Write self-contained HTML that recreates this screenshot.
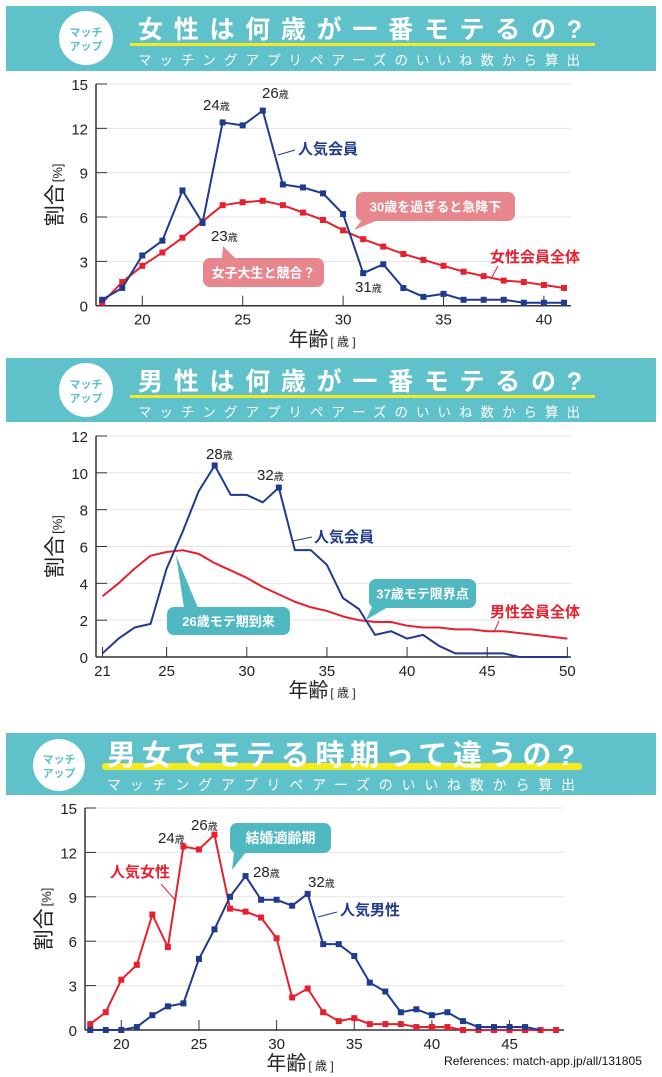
<!DOCTYPE html>
<html><head><meta charset="utf-8"><style>
html,body{margin:0;padding:0;background:#fff;}
svg{display:block;}
text{font-family:"Liberation Sans","Noto Sans CJK JP",sans-serif;}
.t{font-family:"Liberation Sans Narrow","Liberation Sans","Noto Sans CJK JP",sans-serif;font-size:15px;fill:#222;}
.j{font-family:"Liberation Sans","Noto Sans CJK JP",sans-serif;}
</style></head><body>
<svg id="s" width="662" height="1077" viewBox="0 0 662 1077" xmlns="http://www.w3.org/2000/svg">
<rect x="6" y="6" width="650" height="65" fill="#5fc1c9"/>
<rect x="6" y="358" width="650" height="64" fill="#5fc1c9"/>
<rect x="6" y="733" width="650" height="62" fill="#5fc1c9"/>
<g class="j">
<circle cx="86" cy="38" r="27" fill="#fff"/>
<text x="86" y="36" font-size="11" font-weight="bold" fill="#5fc1c9" text-anchor="middle">マッチ</text>
<text x="86" y="50" font-size="11" font-weight="bold" fill="#5fc1c9" text-anchor="middle">アップ</text>
<rect x="130" y="43" width="465" height="3" fill="#f5ea1e"/>
<text x="138" y="38" font-size="25" font-weight="bold" fill="#fff" textLength="444" lengthAdjust="spacing">女性は何歳が一番モテるの?</text>
<text x="138" y="65" font-size="13.5" fill="#fff" textLength="442" lengthAdjust="spacing">マッチングアプリペアーズのいいね数から算出</text>

<circle cx="86" cy="390" r="27" fill="#fff"/>
<text x="86" y="388" font-size="11" font-weight="bold" fill="#5fc1c9" text-anchor="middle">マッチ</text>
<text x="86" y="402" font-size="11" font-weight="bold" fill="#5fc1c9" text-anchor="middle">アップ</text>
<rect x="130" y="395" width="465" height="3" fill="#f5ea1e"/>
<text x="138" y="390" font-size="25" font-weight="bold" fill="#fff" textLength="444" lengthAdjust="spacing">男性は何歳が一番モテるの?</text>
<text x="138" y="417" font-size="13.5" fill="#fff" textLength="442" lengthAdjust="spacing">マッチングアプリペアーズのいいね数から算出</text>

<circle cx="59" cy="765" r="26" fill="#fff"/>
<text x="59" y="763" font-size="11" font-weight="bold" fill="#5fc1c9" text-anchor="middle">マッチ</text>
<text x="59" y="777" font-size="11" font-weight="bold" fill="#5fc1c9" text-anchor="middle">アップ</text>
<rect x="102" y="763" width="480" height="7" rx="3" fill="#f5ea1e"/>
<text x="107" y="765" font-size="29" font-weight="bold" fill="#fff" textLength="468" lengthAdjust="spacing">男女でモテる時期って違うの?</text>
<text x="107" y="790" font-size="14" fill="#fff" textLength="468" lengthAdjust="spacing">マッチングアプリペアーズのいいね数から算出</text>
</g>
<g id="g"></g>
<text x="444" y="1065" font-size="12" fill="#111" textLength="198" lengthAdjust="spacingAndGlyphs">References: match-app.jp/all/131805</text>
</svg>
<script>
const NS="http://www.w3.org/2000/svg";const G=document.getElementById('g');
function el(t,a,txt){const e=document.createElementNS(NS,t);for(const k in a)e.setAttribute(k,a[k]);if(txt!=null)e.textContent=txt;G.appendChild(e);return e;}
const BLUE="#1f3a8f",RED="#e8202e",PINK="#e8868e",TEAL="#4fb8c0";
function chart(o){
 const X=v=>o.x0+(v-o.a0)*o.dx, Y=v=>o.y0-(v)*(o.y0-o.yT)/o.vmax;
 for(let v=0;v<=o.vmax;v+=o.vs){el('line',{x1:o.ax,x2:o.right,y1:Y(v),y2:Y(v),stroke:v?"#e4e4e4":"#333","stroke-width":v?1:1.5});
  el('line',{x1:o.ax,x2:o.ax+11,y1:Y(v),y2:Y(v),stroke:"#333","stroke-width":1});
  el('text',{x:o.ax-8,y:Y(v)+6,"text-anchor":"end",class:"t"},v);}
 el('line',{x1:o.ax,x2:o.ax,y1:o.yT,y2:o.y0,stroke:"#333","stroke-width":1.5});
 o.xt.forEach(v=>{el('line',{x1:X(v),x2:X(v),y1:o.y0,y2:o.y0-10,stroke:"#333"});el('text',{x:X(v),y:o.y0+19,"text-anchor":"middle",class:"t"},v);});
 o.series.forEach(s=>{const p=s.d.map((v,i)=>X(s.a+i)+","+Y(v)).join(" ");
  el('polyline',{points:p,fill:"none",stroke:s.c,"stroke-width":2,"stroke-linejoin":"round"});
  s.d.forEach((v,i)=>{if(s.m===true||(Array.isArray(s.m)&&s.m.includes(s.a+i)))el('rect',{x:X(s.a+i)-3,y:Y(v)-3,width:6,height:6,fill:s.c});});});
 const cy=(o.yT+o.y0)/2;
 const yl=el('text',{x:0,y:0,transform:`translate(${o.ax-34},${cy}) rotate(-90)`,"text-anchor":"middle",class:"j",fill:"#222"});
 yl.innerHTML='<tspan font-size="21">割合</tspan><tspan font-size="13" dx="2">[%]</tspan>';
 const xl=el('text',{x:o.xlx,y:o.xly,"text-anchor":"middle",class:"j",fill:"#222"});
 xl.innerHTML='<tspan font-size="20">年齢</tspan><tspan font-size="12" dx="2">[ 歳 ]</tspan>';
}
function lab(x,y,n){const t=el('text',{x:x,y:y,class:"t",fill:"#222"});t.innerHTML=`<tspan font-size="15">${n}</tspan><tspan font-size="10" class="j">歳</tspan>`;}
function btxt(x,y,s,c,fs){el('text',{x:x,y:y,class:"j","font-size":fs||15,"font-weight":"bold",fill:c},s);}
function callout(x1,y1,x2,y2,px,py,bx1,bx2,c,s,fs){
 el('rect',{x:x1,y:y1,width:x2-x1,height:y2-y1,rx:7,fill:c});
 const by=py>y2?y2-1:y1+1;el('polygon',{points:`${bx1},${by} ${bx2},${by} ${px},${py}`,fill:c});
 el('text',{x:(x1+x2)/2,y:(y1+y2)/2+5,"text-anchor":"middle",class:"j","font-size":fs||13,fill:"#fff","font-weight":"bold"},s);}
function line(a,b,c,d,col){el('line',{x1:a,y1:b,x2:c,y2:d,stroke:col,"stroke-width":1});}

const WP=[0.4,1.2,3.4,4.4,7.8,5.6,12.4,12.2,13.2,8.2,8.0,7.6,6.2,2.2,2.8,1.2,0.6,0.8,0.4,0.4,0.4,0.2,0.2,0.2];
const WA=[0.2,1.6,2.7,3.6,4.6,5.7,6.8,7.0,7.1,6.8,6.3,5.8,5.1,4.5,4.0,3.5,3.1,2.7,2.3,2.0,1.7,1.6,1.4,1.2];
const MP=[0.2,1.0,1.6,1.8,4.8,6.8,9.0,10.4,8.8,8.8,8.4,9.2,5.8,5.8,5.0,3.2,2.6,1.2,1.4,1.0,1.2,0.6,0.2,0.2,0.2,0.2,0,0,0,0];
const MA=[3.3,4.0,4.8,5.5,5.7,5.8,5.6,5.1,4.7,4.3,3.8,3.4,3.0,2.7,2.5,2.2,2.0,1.9,1.9,1.7,1.6,1.6,1.5,1.5,1.4,1.4,1.3,1.2,1.1,1.0];

chart({ax:96,right:571,x0:142.3,a0:20,dx:20.08,y0:305.7,yT:84,vmax:15,vs:3,xt:[20,25,30,35,40],xlx:322,xly:346,
 series:[{a:18,d:WA,c:RED,m:true},{a:18,d:WP,c:BLUE,m:true}]});
lab(203,110,24);lab(262,98,26);lab(211,241,23);lab(355,292,31);
btxt(298,154,"人気会員",BLUE);line(278,155,295,150,BLUE);
btxt(490,262,"女性会員全体",RED);line(492,277,498,266,RED);
callout(356,192,515,221,354,230,362,378,PINK,"30歳を過ぎると急降下");
callout(203,258,324,287,223,246,222,236,PINK,"女子大生と競合？");

chart({ax:96,right:571,x0:102.5,a0:21,dx:16.03,y0:657,yT:436,vmax:12,vs:2,xt:[21,25,30,35,40,45,50],xlx:322,xly:697,
 series:[{a:21,d:MA,c:RED,m:false},{a:21,d:MP,c:BLUE,m:[28,32]}]});
lab(206,459,28);lab(257,480,32);
btxt(314,542,"人気会員",BLUE);line(293,541,312,537,BLUE);
btxt(490,617,"男性会員全体",RED);line(494,632,499,621,RED);
callout(369,579,476,608,366,620,372,388,TEAL,"37歳モテ限界点");
callout(167,607,290,635,176,555,184,198,TEAL,"26歳モテ期到来");

const WP3=WP.concat([0,0,0,0,0,0,0]);
const MP3=[0,0,0].concat(MP.slice(0,27));
chart({ax:85,right:564,x0:121.3,a0:20,dx:15.53,y0:1030,yT:808,vmax:15,vs:3,xt:[20,25,30,35,40,45],xlx:300,xly:1070,
 series:[{a:18,d:WP3,c:RED,m:true},{a:18,d:MP3,c:BLUE,m:[18,19,20,21,22,23,24,25,26,27,28,29,30,31,32,33,34,35,36,37,38,39,40,41,42,43,44,45,46]}]});
lab(158,843,24);lab(191,830,26);lab(253,877,28);lab(308,887,32);
btxt(110,877,"人気女性",RED);line(161,884,176,901,RED);
btxt(340,915,"人気男性",BLUE);line(318,917,337,912,BLUE);
callout(230,823,331,853,232,870,234,246,TEAL,"結婚適齢期",14);
</script>
</body></html>
